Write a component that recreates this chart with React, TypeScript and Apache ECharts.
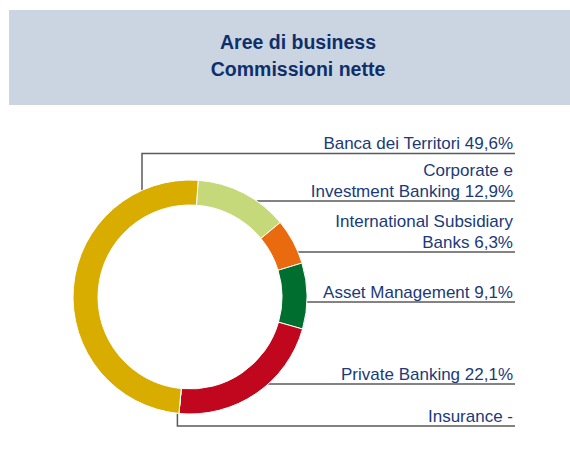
import React, { useEffect, useRef } from "react";
import * as echarts from "echarts";

// ---- data (clockwise order, starting just right of 12 o'clock) ----
const categories = [
  "Corporate e\nInvestment Banking",
  "International Subsidiary\nBanks",
  "Asset Management",
  "Private Banking",
  "Insurance",
  "Banca dei Territori",
];
const shares: (number | null)[] = [12.9, 6.3, 9.1, 22.1, 0, 49.6];
const sliceColors = ["#c6d97a", "#ea6a10", "#006e2e", "#c1071d", "#9fb0c8", "#d9ac00"];
const titleLines = ["Aree di business", "Commissioni nette"];

// ---- layout ----
const CX = 190;
const CY = 297;
const R_OUT = 117;
const R_IN = 92;
const START_ANGLE = 86;
const LABEL_RIGHT = 513;
const LINE_RIGHT = 515;
// y of the rule under each label, by data index
const ruleY = [201, 252, 302, 384, 426, 153.5];
const FONT = "'Liberation Sans', Arial, Helvetica, sans-serif";

function fmt(v: number | null) {
  if (!v) return "-";
  return v.toFixed(1).replace(".", ",") + "%";
}

export default function App() {
  const ref = useRef<HTMLDivElement>(null);
  useEffect(() => {
    document.body.style.margin = "0";
    if (!ref.current) return;
    const chart = echarts.init(ref.current, undefined, { renderer: "svg" });
    const total = shares.reduce((a: number, b) => a + (b || 0), 0);
    // angle (degrees clockwise from 12 o'clock) of start of each slice
    const startDeg: number[] = [];
    let acc = 90 - START_ANGLE;
    shares.forEach((v) => {
      startDeg.push(acc);
      acc += ((v || 0) / total) * 360;
    });

    const anchorFor = (i: number): number[][] => {
      const y = ruleY[i];
      if (i === categories.length - 1) {
        // vertical leader up from the upper-left of the ring
        const x = 142;
        const yy = CY - Math.sqrt(R_OUT * R_OUT - (x - CX) * (x - CX));
        return [[x, yy], [x, y], [LINE_RIGHT, y]];
      }
      if (!shares[i]) {
        const a = (startDeg[i] * Math.PI) / 180;
        const x = CX + R_OUT * Math.sin(a) - 1.5;
        const yy = CY - R_OUT * Math.cos(a);
        return [[x, yy], [x, y], [LINE_RIGHT, y]];
      }
      const dy = y - CY;
      const x = CX + Math.sqrt(Math.max(0, R_OUT * R_OUT - dy * dy));
      return [[x, y], [(x + LINE_RIGHT) / 2, y], [LINE_RIGHT, y]];
    };

    chart.setOption({
      animation: false,
      backgroundColor: "#ffffff",
      graphic: [
        {
          type: "rect",
          z: -10,
          shape: { x: 9, y: 10, width: 561, height: 95 },
          style: { fill: "#cbd5e2" },
          silent: true,
        },
      ],
      title: {
        text: titleLines.join("\n"),
        left: 293,
        top: 23,
        textAlign: "center",
        textStyle: {
          fontFamily: FONT,
          fontSize: 19.5,
          fontWeight: "bold",
          color: "#0f2f6b",
          lineHeight: 27,
        },
      },
      series: [
        {
          type: "pie",
          center: [CX, CY],
          radius: [R_IN, R_OUT],
          startAngle: START_ANGLE,
          clockwise: true,
          avoidLabelOverlap: false,
          stillShowZeroSum: true,
          silent: true,
          itemStyle: { borderColor: "#ffffff", borderWidth: 1 },
          label: {
            show: true,
            position: "outside",
            fontFamily: FONT,
            fontSize: 17,
            lineHeight: 21,
            color: "#1b3a78",
            align: "right",
            formatter: (p: any) => `${p.name} ${fmt(shares[p.dataIndex])}`,
          },
          labelLine: {
            show: true,
            lineStyle: { color: "#5a5a5a", width: 1.5 },
          },
          labelLayout: (p: any) => ({
            x: LABEL_RIGHT,
            y: ruleY[p.dataIndex] + 0.5,
            align: "right",
            verticalAlign: "bottom",
            labelLinePoints: anchorFor(p.dataIndex),
          }),
          data: categories.map((name, i) => ({
            name,
            value: shares[i] ?? 0,
            itemStyle: { color: sliceColors[i] },
          })),
        },
      ],
    });
    return () => chart.dispose();
  }, []);
  return <div ref={ref} style={{ width: 570, height: 463 }} />;
}
